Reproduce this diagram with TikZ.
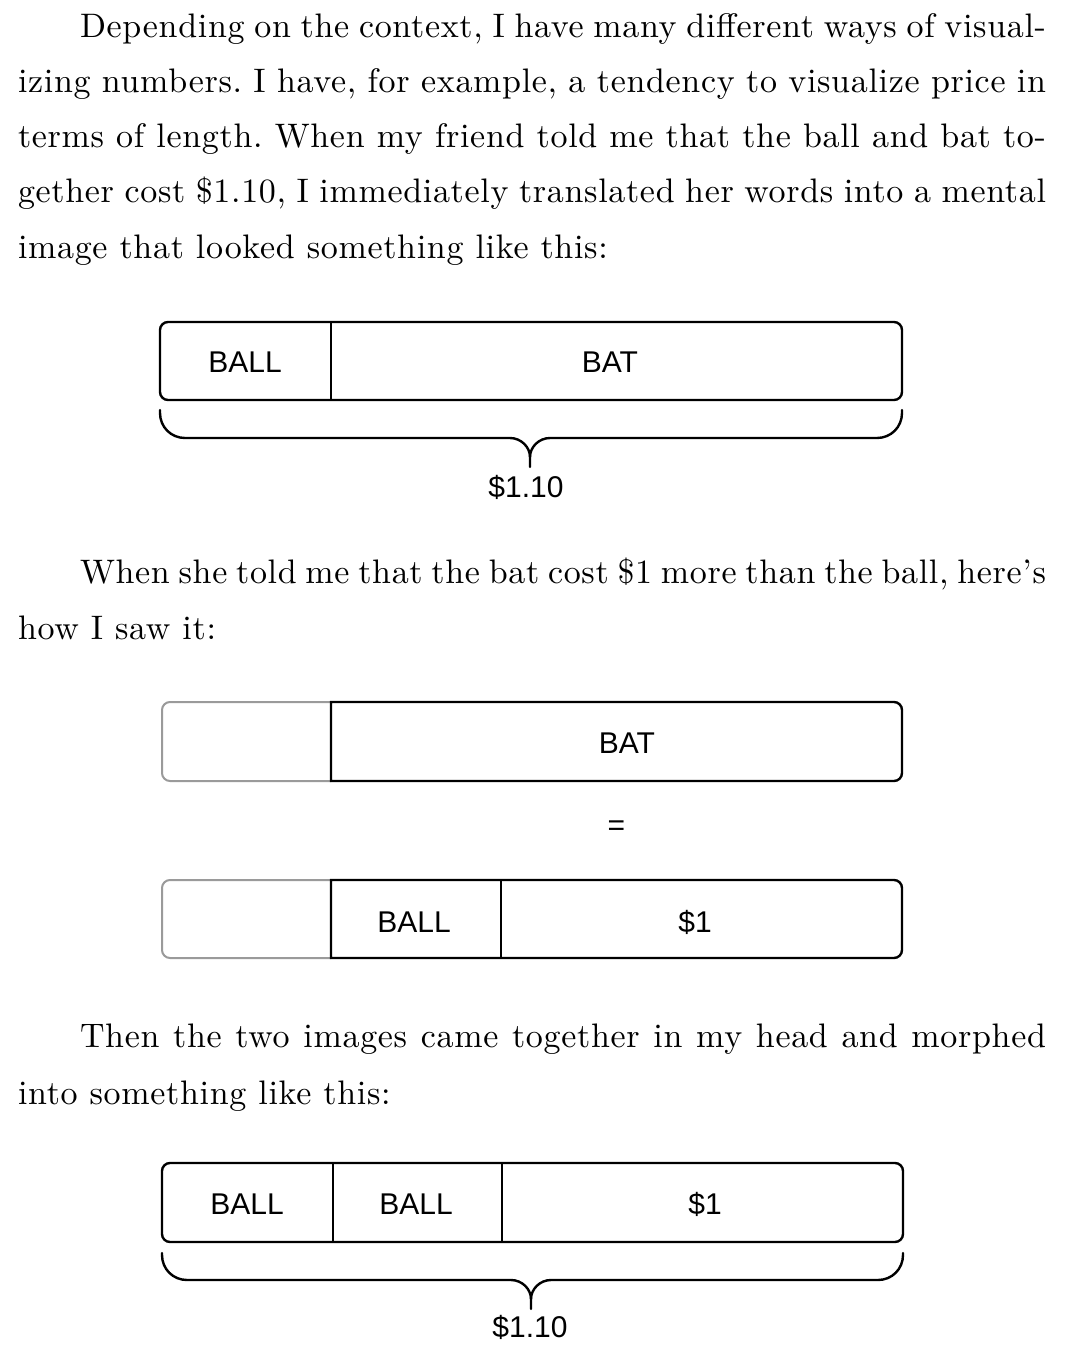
\documentclass[tikz,border=0pt]{standalone}
\usepackage{fontspec}
\setmainfont{lmroman10-regular.otf}[LetterSpace=2]
\newfontfamily\labfont{Liberation Sans}
\definecolor{ghostgray}{HTML}{9A9A9A}
\frenchspacing
\newcommand\pricebrace[5]{%
  \draw[bracestyle] (#1,#3) -- (#1,#4-25) .. controls (#1,#4-11) and (#1+11,#4) .. (#1+25,#4)
    -- (#5-20,#4) .. controls (#5-9,#4) and (#5,#4+9) .. (#5,#4+19) -- (#5,#4+29);
  \draw[bracestyle] (#2,#3) -- (#2,#4-25) .. controls (#2,#4-11) and (#2-11,#4) .. (#2-25,#4)
    -- (#5+20,#4) .. controls (#5+9,#4) and (#5,#4+9) .. (#5,#4+19);
}
\begin{document}
\begin{tikzpicture}[x=1pt,y=-1pt,
  txt/.style={anchor=base west, inner sep=0pt, outer sep=0pt, font=\fontsize{34}{40}\selectfont},
  lab/.style={inner sep=0pt, outer sep=0pt, anchor=center, text height=21.5pt, text depth=0pt,
              font=\labfont\fontsize{30}{36}\selectfont},
  boxline/.style={line width=2.4pt, black},
  ghostline/.style={line width=2pt, ghostgray},
  bracestyle/.style={line width=2.4pt, line cap=round}]
\fill[white] (0,0) rectangle (1066,1366);
\useasboundingbox (0,0) rectangle (1066,1366);

% ---- paragraph 1
\node[txt] (l1) at (80,37) {\makebox[966pt][s]{Depending on the context, I have many different ways of visual-}};
\node[txt] (l2) at (18,92) {\makebox[1028pt][s]{izing numbers. I have, for example, a tendency to visualize price in}};
\node[txt] (l3) at (18,147) {\makebox[1028pt][s]{terms of length. When my friend told me that the ball and bat to-}};
\node[txt] (l4) at (18,202.5) {\makebox[1028pt][s]{gether cost \$1.10, I immediately translated her words into a mental}};
\node[txt] (l5) at (18,258) {image that looked something like this:};

% ---- figure 1
\draw[boxline, rounded corners=8pt] (160,322) rectangle (902,400);
\draw[boxline] (331,322) -- (331,400);
\node[lab] (ball1) at (245,361.5) {BALL};
\node[lab] (bat1) at (610,361.5) {BAT};
\pricebrace{160}{902}{410}{438}{530}
\node[lab] (sum1) at (526,486.5) {\$1.10};

% ---- paragraph 2
\node[txt] (l6) at (80,583) {\makebox[966pt][s]{When she told me that the bat cost \$1 more than the ball, here's}};
\node[txt] (l7) at (18,639) {how I saw it:};

% ---- figure 2
\draw[ghostline, rounded corners=8pt] (331,702) -- (162,702) -- (162,781) -- (331,781);
\draw[boxline] (331,702) -- (894,702) arc[start angle=-90,end angle=0,radius=8]
  -- (902,773) arc[start angle=0,end angle=90,radius=8] -- (331,781) -- cycle;
\node[lab] (bat2) at (627,742.5) {BAT};
\node[lab] (eq) at (616.5,825) {=};

\draw[ghostline, rounded corners=8pt] (331,880) -- (162,880) -- (162,958) -- (331,958);
\draw[boxline] (331,880) -- (894,880) arc[start angle=-90,end angle=0,radius=8]
  -- (902,950) arc[start angle=0,end angle=90,radius=8] -- (331,958) -- cycle;
\draw[boxline] (501,880) -- (501,958);
\node[lab] (ball3) at (414,922) {BALL};
\node[lab] (one3) at (695,922) {\$1};

% ---- paragraph 3
\node[txt] (l8) at (80,1047) {\makebox[966pt][s]{Then the two images came together in my head and morphed}};
\node[txt] (l9) at (18,1104) {into something like this:};

% ---- figure 3
\draw[boxline, rounded corners=8pt] (162,1163) rectangle (903,1242);
\draw[boxline] (333,1163) -- (333,1242);
\draw[boxline] (502,1163) -- (502,1242);
\node[lab] (ball4a) at (247,1204) {BALL};
\node[lab] (ball4b) at (416,1204) {BALL};
\node[lab] (one4) at (705,1204) {\$1};
\pricebrace{162}{903}{1253}{1280}{531}
\node[lab] (sum4) at (530,1327) {\$1.10};
\end{tikzpicture}
\end{document}
